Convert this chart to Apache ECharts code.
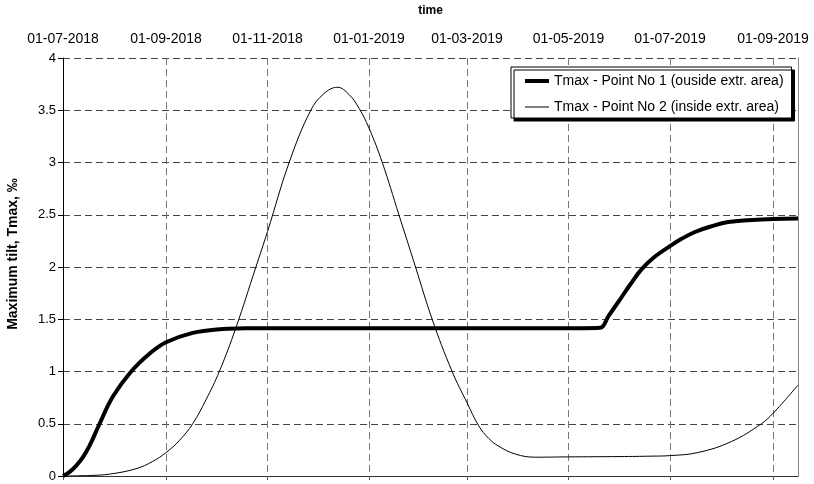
<!DOCTYPE html>
<html>
<head>
<meta charset="utf-8">
<script src="https://cdn.jsdelivr.net/npm/echarts@6/dist/echarts.min.js"></script>
<style>
html,body{margin:0;padding:0;background:#fff;}
#chart{width:814px;height:484px;}
</style>
</head>
<body>
<div id="chart"></div>
<script>
// ---- data ----
var seriesNames = ['Tmax - Point No 1 (ouside extr. area)', 'Tmax - Point No 2 (inside extr. area)'];
var tickDates = ['2018-07-01','2018-09-01','2018-11-01','2019-01-01','2019-03-01','2019-05-01','2019-07-01','2019-09-01'];
var axisStart = '2018-07-01';
var axisEnd = '2019-09-16';

var dates1 = ['2018-07-01','2018-07-05','2018-07-09','2018-07-13','2018-07-17','2018-07-23','2018-07-31','2018-08-11','2018-08-22','2018-09-01','2018-09-17','2018-10-03','2018-10-19','2018-11-01','2018-12-15','2019-02-01','2019-04-01','2019-05-10','2019-05-20','2019-05-25','2019-06-01','2019-06-07','2019-06-14','2019-06-22','2019-07-01','2019-07-08','2019-07-16','2019-07-25','2019-08-05','2019-09-01','2019-09-16'];
var values1 = [0,0.04,0.10,0.18,0.29,0.50,0.76,1.00,1.17,1.28,1.37,1.405,1.413,1.415,1.415,1.415,1.415,1.415,1.418,1.53,1.69,1.83,1.98,2.10,2.20,2.27,2.335,2.385,2.43,2.46,2.465];

var dates2 = ['2018-07-01','2018-07-17','2018-07-29','2018-08-14','2018-08-24','2018-09-01','2018-09-09','2018-09-17','2018-09-25','2018-10-03','2018-10-13','2018-10-25','2018-11-01','2018-11-14','2018-11-27','2018-12-05','2018-12-13','2018-12-20','2018-12-26','2019-01-01','2019-01-09','2019-01-19','2019-01-29','2019-02-08','2019-02-20','2019-03-01','2019-03-08','2019-03-14','2019-03-20','2019-03-30','2019-04-11','2019-05-01','2019-06-01','2019-06-20','2019-07-01','2019-07-18','2019-08-07','2019-08-25','2019-09-01','2019-09-16'];
var values2 = [0,0.005,0.018,0.07,0.14,0.225,0.34,0.50,0.73,1.00,1.42,2.00,2.34,3.00,3.50,3.66,3.72,3.65,3.52,3.33,3.00,2.50,2.00,1.50,1.00,0.70,0.48,0.36,0.285,0.21,0.18,0.183,0.186,0.19,0.195,0.225,0.33,0.50,0.60,0.87];

// ---- helpers ----
function ts(s){ return new Date(s + 'T00:00:00Z').getTime(); }
function pad(n){ return (n < 10 ? '0' : '') + n; }
function fmt(v){ var d = new Date(v); return pad(d.getUTCDate()) + '-' + pad(d.getUTCMonth()+1) + '-' + d.getUTCFullYear(); }
function pairs(ds, vs){ return ds.map(function(d,i){ return [ts(d), vs[i]]; }); }

var tickTs = tickDates.map(ts);
var FONT = 'Liberation Sans, Arial, sans-serif';

var chart = echarts.init(document.getElementById('chart'), null, {renderer:'canvas'});
chart.setOption({
  animation: false,
  backgroundColor: '#fff',
  textStyle: { fontFamily: FONT },
  grid: { left: 63, right: 16, top: 58, bottom: 8, containLabel: false, outerBoundsMode: 'none' },
  legend: {
    orient: 'vertical',
    left: 511, top: 67,
    padding: [7, 8, 4, 12],
    itemWidth: 24, itemHeight: 14, itemGap: 12,
    backgroundColor: '#fff',
    borderColor: '#000', borderWidth: 1, borderRadius: 0,
    shadowColor: '#000', shadowBlur: 0, shadowOffsetX: 3, shadowOffsetY: 3,
    lineStyle: { width: 'inherit' },
    itemStyle: { color: 'rgba(0,0,0,0)', borderWidth: 0, opacity: 0 },
    textStyle: { fontFamily: FONT, fontSize: 14, color: '#000' },
    data: seriesNames
  },
  xAxis: [{
    type: 'value',
    position: 'top',
    min: ts(axisStart), max: ts(axisEnd),
    name: 'time', nameLocation: 'middle', nameGap: 41,
    nameTextStyle: { fontFamily: FONT, fontSize: 12, fontWeight: 'bold', color: '#000' },
    axisLine: { show: false },
    axisTick: { show: false, customValues: tickTs },
    axisLabel: { customValues: tickTs, formatter: fmt, fontFamily: FONT, fontSize: 14, color: '#000', margin: 12 },
    splitLine: { show: true, lineStyle: { color: '#777', type: [7, 4], width: 1 } }
  }, {
    type: 'value',
    position: 'bottom',
    min: ts(axisStart), max: ts(axisEnd),
    axisLine: { show: true, onZero: false, lineStyle: { color: '#333', width: 1 } },
    axisTick: { show: true, inside: false, length: 4, customValues: tickTs, lineStyle: { color: '#555' } },
    axisLabel: { show: false },
    splitLine: { show: false }
  }],
  yAxis: [{
    type: 'value',
    min: 0, max: 4, interval: 0.5,
    name: 'Maximum tilt, Tmax, ‰', nameLocation: 'middle', nameGap: 43,
    nameTextStyle: { fontFamily: FONT, fontSize: 14, fontWeight: 'bold', color: '#000', padding: [0, 0, 0, 26] },
    axisLine: { show: true, onZero: false, lineStyle: { color: '#000', width: 1 } },
    axisTick: { show: true, inside: false, length: 5, lineStyle: { color: '#000' } },
    axisLabel: { fontFamily: FONT, fontSize: 13, color: '#000', margin: 7 },
    splitLine: { show: true, lineStyle: { color: '#444', type: [7, 4], width: 1 } }
  }, {
    type: 'value',
    position: 'right',
    min: 0, max: 4, interval: 0.5,
    axisLine: { show: true, onZero: false, lineStyle: { color: '#888', width: 1 } },
    axisTick: { show: false },
    axisLabel: { show: false },
    splitLine: { show: false }
  }],
  series: [{
    name: seriesNames[0],
    type: 'line',
    xAxisIndex: 0, yAxisIndex: 0,
    data: pairs(dates1, values1),
    showSymbol: false, symbol: 'none',
    smooth: 0.4,
    lineStyle: { color: '#000', width: 4 },
    itemStyle: { color: '#000' },
    z: 3
  }, {
    name: seriesNames[1],
    type: 'line',
    xAxisIndex: 0, yAxisIndex: 0,
    data: pairs(dates2, values2),
    showSymbol: false, symbol: 'none',
    smooth: 0.4,
    lineStyle: { color: '#000', width: 1 },
    itemStyle: { color: '#000' },
    z: 4
  }]
});
</script>
</body>
</html>
